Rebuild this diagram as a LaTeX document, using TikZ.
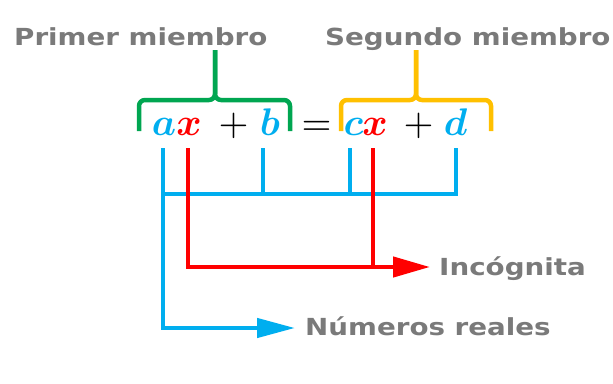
\documentclass[tikz,border=0pt]{standalone}
\usepackage{fontspec}
\usepackage{amsmath}
\usepackage{graphicx}
\usetikzlibrary{arrows.meta}
\newfontfamily\lblfont{DejaVu Sans}[FakeStretch=1.18]
\definecolor{cblue}{HTML}{00AEEF}
\definecolor{cred}{HTML}{FF0000}
\definecolor{cgreen}{HTML}{00A651}
\definecolor{cyellow}{HTML}{FFC000}
\definecolor{txtgray}{HTML}{7A7A7A}
\newcommand{\eqsym}[1]{\scalebox{3.85}{$#1$}}
\begin{document}
\begin{tikzpicture}[x=1pt,y=-1pt,
  eqs/.style={anchor=base,inner sep=0pt},
  lbl/.style={anchor=base west,inner sep=0pt,text=txtgray,font=\lblfont\bfseries\fontsize{23.5}{26}\selectfont},
  bluel/.style={draw=cblue,line width=4.5pt},
  redl/.style={draw=cred,line width=4.5pt},
  bracel/.style={line width=4.5pt,rounded corners=6pt},
  tipb/.style={-{Triangle[length=38pt,width=19pt]}},
  tipr/.style={-{Triangle[length=37pt,width=20pt]}}]
\useasboundingbox[fill=white] (0,0) rectangle (613,383);
% labels
\node[lbl] (prim) at (14,45) {Primer miembro};
\node[lbl] (seg) at (325,45) {Segundo miembro};
\node[lbl] (inc) at (439,275) {Incógnita};
\node[lbl] (nums) at (305,335) {Números reales};
% equation
\node[eqs,text=cblue] (a) at (164,135) {\eqsym{\boldsymbol{a}}};
\node[eqs,text=cred] (x1) at (189,135) {\eqsym{\boldsymbol{x}}};
\node[eqs] (p1) at (233.5,135) {\eqsym{+}};
\node[eqs,text=cblue] (b) at (270,135) {\eqsym{\boldsymbol{b}}};
\node[eqs] (eq) at (316.5,135) {\eqsym{=}};
\node[eqs,text=cblue] (c) at (353.5,135) {\eqsym{\boldsymbol{c}}};
\node[eqs,text=cred] (x2) at (375,135) {\eqsym{\boldsymbol{x}}};
\node[eqs] (p2) at (418.5,135) {\eqsym{+}};
\node[eqs,text=cblue] (d) at (455.5,135) {\eqsym{\boldsymbol{d}}};
% braces
\draw[bracel,cgreen] (139,131) -- (139,100) -- (215,100) -- (215,50);
\draw[bracel,cgreen] (290,131) -- (290,100) -- (215,100) -- (215,50);
\draw[bracel,cyellow] (341,131) -- (341,100) -- (416,100) -- (416,50);
\draw[bracel,cyellow] (491,131) -- (491,100) -- (416,100) -- (416,50);
% connector coordinates
\coordinate (ta) at (163,148);
\coordinate (tx1) at (188,148);
\coordinate (tb) at (263,148);
\coordinate (tc) at (350,148);
\coordinate (tx2) at (373,148);
\coordinate (td) at (456,148);
\coordinate (hrow) at (0,194);
\coordinate (numtip) at (295,328);
\coordinate (inctip) at (430,267);
% blue connectors
\draw[bluel] (ta |- hrow) -| (td);
\draw[bluel] (tb) -- (tb |- hrow);
\draw[bluel] (tc) -- (tc |- hrow);
\draw[bluel,tipb] (ta) |- (numtip);
% red connectors
\draw[redl,tipr] (tx1) |- (inctip);
\draw[redl] (tx2) -- (tx2 |- inctip);
\end{tikzpicture}
\end{document}
